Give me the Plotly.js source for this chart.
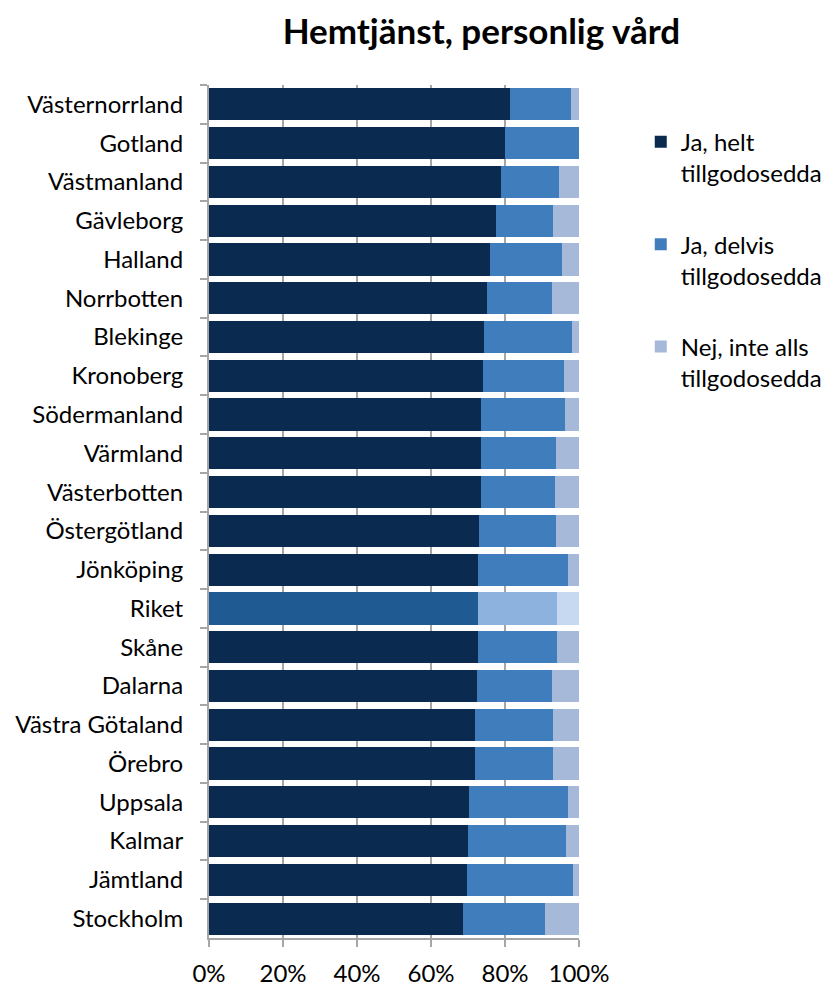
<!DOCTYPE html>
<html>
<head>
<meta charset="utf-8">
<script src="https://cdn.plot.ly/plotly-3.0.1.min.js"></script>
<style>html,body{margin:0;padding:0;background:#fff;}#chart{width:830px;height:989px;}</style>
</head>
<body>
<div id="chart"></div>
<script>
const categories = ["Västernorrland","Gotland","Västmanland","Gävleborg","Halland","Norrbotten","Blekinge","Kronoberg","Södermanland","Värmland","Västerbotten","Östergötland","Jönköping","Riket","Skåne","Dalarna","Västra Götaland","Örebro","Uppsala","Kalmar","Jämtland","Stockholm"];
const heltValues   = [81.4,80.0,78.9,77.6,75.9,75.1,74.4,74.0,73.5,73.5,73.5,73.1,72.8,72.7,72.7,72.4,71.9,71.9,70.4,70.1,69.7,68.6];
const delvisValues = [16.4,20.0,15.8,15.5,19.5,17.6,23.6,21.9,22.6,20.3,20.0,20.6,24.2,21.4,21.4,20.3,21.2,21.1,26.6,26.4,28.8,22.3];
const inteValues   = [2.2,0.0,5.3,6.9,4.6,7.3,2.0,4.1,3.9,6.2,6.5,6.3,3.0,5.9,5.9,7.3,6.9,7.0,3.0,3.5,1.5,9.1];
const seriesNames = ["Ja, helt<br>tillgodosedda","Ja, delvis<br>tillgodosedda","Nej, inte alls<br>tillgodosedda"];
const tickLabels = ["0%","20%","40%","60%","80%","100%"];
const tickVals = [0,20,40,60,80,100];

const baseColors = ["#0b2a50","#407dbd","#a7b9d8"];
const riketColors = ["#1f5a92","#8db2de","#c6d9f0"];
const highlight = "Riket";
function colorsFor(i){ return categories.map(c => c === highlight ? riketColors[i] : baseColors[i]); }

const seriesValues = [heltValues, delvisValues, inteValues];
const font = "Lato, 'Open Sans', sans-serif";
const traces = seriesValues.map((vals, i) => ({
  type: "bar",
  orientation: "h",
  name: seriesNames[i],
  y: categories,
  x: vals,
  legendgroup: "g" + i,
  marker: {color: colorsFor(i), line: {width: 0}},
  hoverinfo: "x+y+name"
}));

const layout = {
  width: 830, height: 989,
  margin: {l: 209, r: 251, t: 85, b: 51},
  paper_bgcolor: "#fff", plot_bgcolor: "#fff",
  barmode: "stack",
  bargap: 0.17,
  font: {family: font, size: 24, color: "#000"},
  title: {text: "<b>Hemtjänst, personlig vård</b>", x: 0.58, xanchor: "center", xref: "container", y: 0.968, yref: "container", yanchor: "middle", font: {family: font, size: 35, color: "#000"}},
  xaxis: {
    range: [0, 100], tickvals: tickVals, ticktext: tickLabels,
    showgrid: true, gridcolor: "#a6a6a6", gridwidth: 2,
    showline: true, linecolor: "#a6a6a6", linewidth: 2,
    ticks: "outside", ticklen: 7, tickcolor: "#a6a6a6", tickwidth: 2,
    tickfont: {family: font, size: 24, color: "#000"},
    zeroline: false, fixedrange: true, ticklabelstandoff: 6
  },
  yaxis: {
    type: "category", autorange: "reversed",
    showline: true, linecolor: "#a6a6a6", linewidth: 2,
    ticks: "outside", tickson: "boundaries", ticklen: 7, tickcolor: "#a6a6a6", tickwidth: 2,
    showgrid: false, tickfont: {family: font, size: 24, color: "#000"},
    ticklabelstandoff: 19, fixedrange: true
  },
  legend: {
    x: 0.772, xref: "container", xanchor: "left",
    y: 0.879, yref: "container", yanchor: "top",
    valign: "top", traceorder: "grouped", tracegroupgap: 37,
    font: {family: font, size: 24, color: "#000"},
    bgcolor: "rgba(0,0,0,0)"
  },
  showlegend: true
};

Plotly.newPlot("chart", traces, layout, {displayModeBar: false, staticPlot: true});
</script>
</body>
</html>
